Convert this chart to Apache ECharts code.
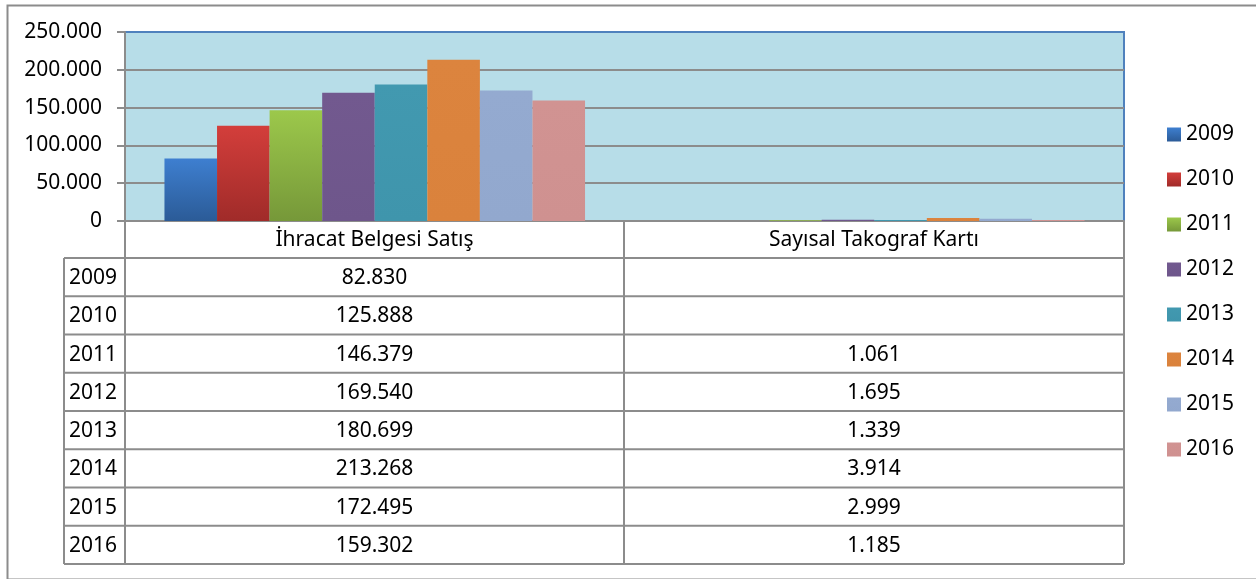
<!DOCTYPE html>
<html>
<head>
<meta charset="utf-8">
<script src="https://cdn.jsdelivr.net/npm/echarts@6/dist/echarts.min.js"></script>
<style>
html, body { margin: 0; padding: 0; background: #fff; }
#main { width: 1256px; height: 579px; }
</style>
</head>
<body>
<div id="main"></div>
<script>
var categories = ['İhracat Belgesi Satış', 'Sayısal Takograf Kartı'];
var years = ['2009', '2010', '2011', '2012', '2013', '2014', '2015', '2016'];
var ihracat = [82830, 125888, 146379, 169540, 180699, 213268, 172495, 159302];
var takograf = [null, null, 1061, 1695, 1339, 3914, 2999, 1185];
var yTicks = [0, 50000, 100000, 150000, 200000, 250000];

var colors = [
	['#3e7fd0', '#2b5b97'],
	['#d33e3b', '#a02b29'],
	['#9cc84b', '#769839'],
	['#72598f', '#6e568b'],
	['#4299b0', '#3f95ac'],
	['#dc843e', '#da823c'],
	['#94aad0', '#92a8ce'],
	['#d19392', '#cf9190']
];

function fmt(v) {
	if (v == null) return '';
	return String(v).replace(/\B(?=(\d{3})+(?!\d))/g, '.');
}

var font = '"Noto Sans", "Open Sans", sans-serif';
var lineColor = '#8c8c8c';

var myChart = echarts.init(document.getElementById('main'));

var series = [];
for (var i = 0; i < years.length; i++) {
	series.push({
		name: years[i],
		type: 'bar',
		barGap: '0%',
		barCategoryGap: '15.8%',
		data: [ihracat[i], takograf[i]],
		itemStyle: {
			color: new echarts.graphic.LinearGradient(0, 0, 0, 1, [
				{ offset: 0, color: colors[i][0] },
				{ offset: 1, color: colors[i][1] }
			])
		},
		emphasis: { disabled: true }
	});
}

// data table below the plot
var tableLeft = 64, plotLeft = 125, colSplit = 624, plotRight = 1124;
var headTop = 221, rowTop = 258, rowH = 38.25;
var tFont = '21px ' + font;
var g = [];
g.push({
	type: 'rect', left: 5, top: 3, silent: true, z: -10,
	shape: { x: 0, y: 0, width: 1262, height: 574 },
	style: { fill: 'none', stroke: lineColor, lineWidth: 2 }
});
var bottomY = rowTop + rowH * years.length;
// horizontal lines
g.push({ type: 'line', shape: { x1: plotLeft, y1: headTop, x2: plotRight, y2: headTop }, style: { stroke: lineColor, lineWidth: 2 } });
for (var r = 0; r <= years.length; r++) {
	var y = rowTop + r * rowH;
	g.push({ type: 'line', shape: { x1: tableLeft, y1: y, x2: plotRight, y2: y }, style: { stroke: lineColor, lineWidth: 2 } });
}
// vertical lines
g.push({ type: 'line', shape: { x1: tableLeft, y1: rowTop, x2: tableLeft, y2: bottomY }, style: { stroke: lineColor, lineWidth: 2 } });
[plotLeft, colSplit, plotRight].forEach(function (x) {
	g.push({ type: 'line', shape: { x1: x, y1: headTop, x2: x, y2: bottomY }, style: { stroke: lineColor, lineWidth: 2 } });
});
// header texts
var colCenters = [(plotLeft + colSplit) / 2, (colSplit + plotRight) / 2];
categories.forEach(function (c, k) {
	g.push({
		type: 'text', x: colCenters[k], y: (headTop + rowTop) / 2 + 1,
		style: { text: c, font: tFont, fill: '#000', align: 'center', verticalAlign: 'middle' }
	});
});
// rows
years.forEach(function (yr, r) {
	var cy = rowTop + r * rowH + rowH / 2 + 1;
	g.push({ type: 'text', x: 69, y: cy, style: { text: yr, font: tFont, fill: '#000', align: 'left', verticalAlign: 'middle' } });
	g.push({ type: 'text', x: colCenters[0], y: cy, style: { text: fmt(ihracat[r]), font: tFont, fill: '#000', align: 'center', verticalAlign: 'middle' } });
	g.push({ type: 'text', x: colCenters[1], y: cy, style: { text: fmt(takograf[r]), font: tFont, fill: '#000', align: 'center', verticalAlign: 'middle' } });
});

var option = {
	animation: false,
	backgroundColor: '#fff',
	grid: {
		left: plotLeft, right: 1256 - plotRight, top: 32, bottom: 579 - headTop,
		show: true, backgroundColor: '#b7dde8', borderColor: '#4f81bd', borderWidth: 2
	},
	legend: {
		data: years,
		orient: 'vertical',
		left: 1162,
		top: 119,
		itemWidth: 14,
		itemHeight: 14,
		itemGap: 24,
		icon: 'rect',
		textStyle: { fontFamily: font, fontSize: 21, color: '#000' }
	},
	xAxis: {
		type: 'category',
		data: categories,
		axisLine: { show: true, lineStyle: { color: lineColor, width: 2 } },
		axisTick: { show: false },
		axisLabel: { show: false }
	},
	yAxis: {
		type: 'value',
		min: yTicks[0],
		max: yTicks[yTicks.length - 1],
		interval: 50000,
		axisLine: { show: true, lineStyle: { color: lineColor, width: 2 } },
		axisTick: { show: true, length: 8, lineStyle: { color: lineColor, width: 2 } },
		splitLine: { show: true, showMaxLine: false, lineStyle: { color: lineColor, width: 2 } },
		axisLabel: {
			formatter: fmt, margin: 23, color: '#000',
			fontFamily: font, fontSize: 21
		}
	},
	graphic: g,
	series: series
};
myChart.setOption(option);
</script>
</body>
</html>
